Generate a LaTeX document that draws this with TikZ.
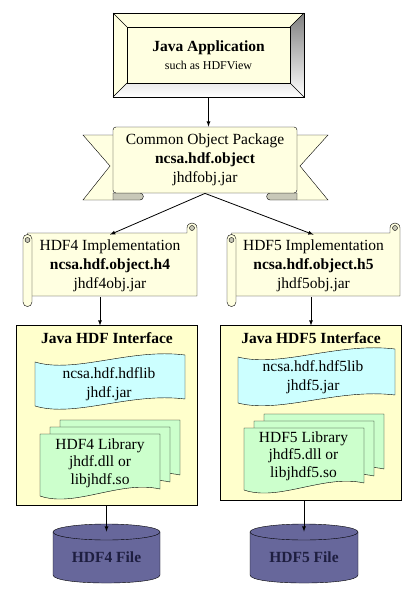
\documentclass[tikz,border=0pt]{standalone}
\usepackage{fontspec}
\setmainfont{Liberation Serif}
\usetikzlibrary{backgrounds}
\definecolor{paper}{HTML}{FFFFE1}
\definecolor{panel}{HTML}{FFFFCC}
\definecolor{shade}{HTML}{C8C8B8}
\definecolor{tape}{HTML}{CCFFFF}
\definecolor{leaf}{HTML}{CCFFCC}
\definecolor{disk}{HTML}{67679B}
\definecolor{disktext}{HTML}{1E1E40}

\begin{document}
\begin{tikzpicture}[x=1pt, y=-1pt, >=latex, line width=0.8pt,
    txt/.style={align=center, inner sep=0pt, font=\fontsize{15.5}{19}\selectfont},
    slab/.style={draw=none, minimum width=#1}]
      \useasboundingbox (0,0) rectangle (419,600);

      \node[txt, slab=191pt, minimum height=84pt] (app)     at (208.5,55)  {\textbf{Java Application}\\[-1pt]{\fontsize{12}{14}\selectfont such as HDFView}};
      \node[txt, slab=184pt, minimum height=66pt] (obj_pkg) at (205,160)   {Common Object Package\\\textbf{ncsa.hdf.object}\\jhdfobj.jar};
      \node[txt, slab=174pt, minimum height=62pt] (impl_4)  at (110,266)   {HDF4 Implementation\\\textbf{ncsa.hdf.object.h4}\\jhdf4obj.jar};
      \node[txt, slab=173pt, minimum height=62pt] (impl_5)  at (313.5,266) {HDF5 Implementation\\\textbf{ncsa.hdf.object.h5}\\jhdf5obj.jar};

      \node[slab=180pt, minimum height=179pt] (intf_4) at (107,415.5) {};
      \node[slab=180pt, minimum height=174pt] (intf_5) at (311,413)   {};
      \node[txt] (title_4) at (107,338) {\textbf{Java HDF Interface}};
      \node[txt] (title_5) at (311,338) {\textbf{Java HDF5 Interface}};

      \node[txt] (jar_4) at (109,384) {ncsa.hdf.hdflib\\jhdf.jar};
      \node[txt] (jar_5) at (313,377) {ncsa.hdf.hdf5lib\\jhdf5.jar};
      \node[txt, font=\fontsize{15.5}{17.5}\selectfont] (lib_4) at (100,463)   {HDF4 Library\\jhdf.dll or\\libjhdf.so};
      \node[txt, font=\fontsize{15.5}{17.5}\selectfont] (lib_5) at (303.5,456) {HDF5 Library\\jhdf5.dll or\\libjhdf5.so};

      \node[txt, slab=107pt, minimum height=50pt, text=disktext] (file_4) at (106.5,557) {\textbf{HDF4 File}};
      \node[txt, slab=108pt, minimum height=50pt, text=disktext] (file_5) at (304,557)   {\textbf{HDF5 File}};

      \path[->] (app.south) edge (app.south |- obj_pkg.north)
                (obj_pkg.south) edge (impl_4.north)
                                edge (impl_5.north)
                (impl_4.south -| lib_4) edge (intf_4.north -| lib_4)
                (impl_5.south -| intf_5) edge (intf_5.north)
                (intf_4.south -| file_4) edge (file_4.north)
                (intf_5.south -| file_5) edge (file_5.north);

      \begin{scope}[on background layer]
        % bevel
        \fill[paper] (113,13) rectangle (304,97);
        \fill[shade] (304,13) -- (304,97) -- (113,97) -- (127,83) -- (290,83) -- (290,27) -- cycle;
        \draw (113,13) rectangle (304,97) (127,27) rectangle (290,83);
        \draw (113,13) -- (127,27) (304,13) -- (290,27) (113,97) -- (127,83) (304,97) -- (290,83);
        % ribbon
        \filldraw[fill=paper] (113,135) -- (83,135) -- (110,166) -- (83,200) -- (113,200);
        \filldraw[fill=paper] (297,135) -- (328,135) -- (300,166) -- (328,200) -- (297,200);
        \filldraw[fill=shade] (113,193) -- (113,200) -- (140,200) .. controls (144.5,200) and (144.5,193) .. (140,193) -- cycle;
        \filldraw[fill=shade] (297,193) -- (297,200) -- (270,200) .. controls (265.5,200) and (265.5,193) .. (270,193) -- cycle;
        \filldraw[fill=paper, rounded corners=3pt] (113,127) rectangle (297,193);
        % scrolls
        \foreach \l/\r in {23/197, 227/400} {
          \filldraw[fill=paper] (\l+4.5,233) -- (\r-10,233) -- (\r-10,228) .. controls (\r-10,221.3) and (\r,221.3) .. (\r,228)
                                -- (\r,296) -- (\l+4.5,296) -- cycle;
          \filldraw[fill=shade] (\r-5,228) circle (2.5);
          \filldraw[fill=paper] (\l+9,239) .. controls (\l+9,233) and (\l,233) .. (\l,239) -- (\l,302)
                                .. controls (\l,308) and (\l+9,308) .. (\l+9,302) -- cycle;
          \filldraw[fill=shade] (\l+4.5,240) circle (2.5);
        }
        % interface panels
        \filldraw[fill=panel] (intf_4.north west) rectangle (intf_4.south east);
        \filldraw[fill=panel] (intf_5.north west) rectangle (intf_5.south east);
        % tapes
        \filldraw[fill=tape] (35,362) .. controls (75,374) and (130,348) .. (185,355) -- (185,399)
                             .. controls (130,392) and (75,418) .. (35,406) -- cycle;
        \filldraw[fill=tape] (238,357) .. controls (280,368) and (338,342) .. (395,349) -- (395,395)
                             .. controls (338,388) and (280,414) .. (238,403) -- cycle;
        % library pages
        \foreach \x/\y in {40/434, 244/428}
          \foreach \dx/\dy in {20/-14, 10/-7, 0/0}
            \filldraw[fill=leaf] (\x+\dx,\y+\dy) -- (\x+\dx+120,\y+\dy) -- (\x+\dx+120,\y+\dy+55)
                                 .. controls (\x+\dx+80,\y+\dy+46) and (\x+\dx+35,\y+\dy+74) .. (\x+\dx,\y+\dy+62) -- cycle;
        % disks
        \foreach \cx/\rx in {106.5/53.5, 304/54} {
          \filldraw[fill=disk] (\cx-\rx,532) -- (\cx-\rx,575) .. controls (\cx-\rx,585.7) and (\cx+\rx,585.7) .. (\cx+\rx,575)
                               -- (\cx+\rx,532) -- cycle;
          \filldraw[fill=disk] (\cx,532) ellipse [x radius=\rx, y radius=8];
        }
      \end{scope}
    \end{tikzpicture}
\end{document}
